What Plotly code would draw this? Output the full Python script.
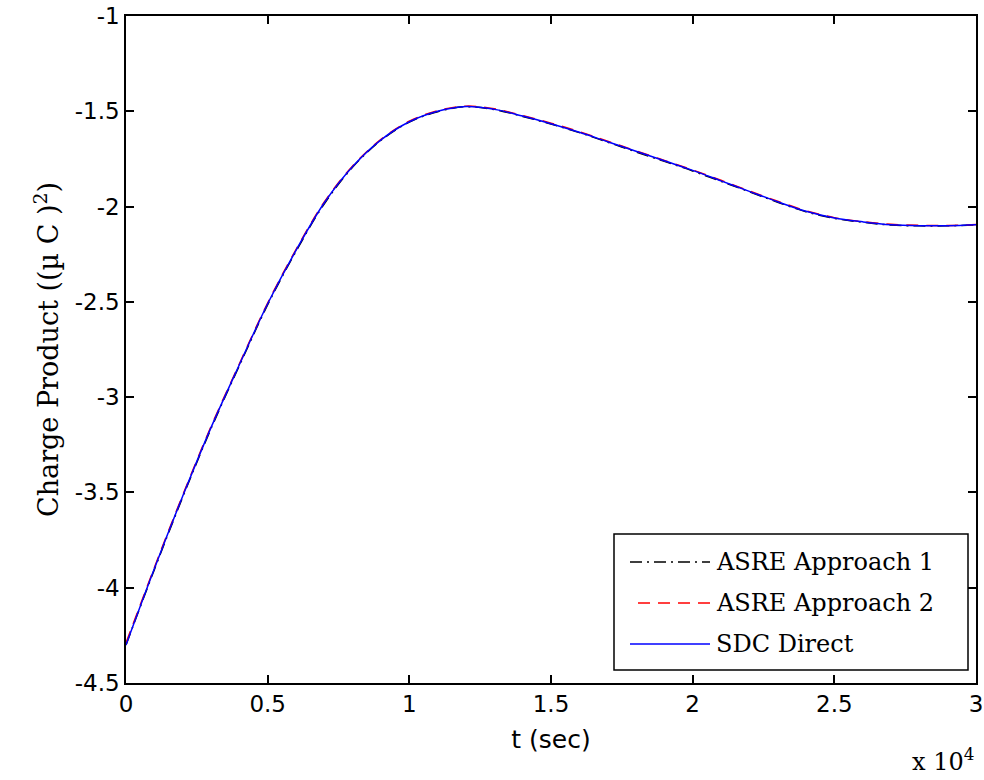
import plotly.graph_objects as go

# time in seconds
t = [0, 1000, 2000, 3000, 4000, 5000, 6000, 7000, 8000, 9000, 10000,
     11000, 12000, 13000, 14000, 15000, 16000, 17000, 18000, 19000, 20000,
     21000, 22000, 23000, 24000, 25000, 26000, 27000, 28000, 29000, 30000]

sdc_direct = [-4.30, -3.90, -3.52, -3.16, -2.83, -2.51, -2.23, -1.98, -1.79, -1.65, -1.555,
              -1.50, -1.475, -1.49, -1.525, -1.565, -1.61, -1.66, -1.71, -1.76, -1.81,
              -1.865, -1.92, -1.975, -2.025, -2.06, -2.08, -2.095, -2.10, -2.10, -2.095]

asre1 = [-4.30, -3.905, -3.525, -3.165, -2.835, -2.515, -2.235, -1.985, -1.793, -1.652, -1.557,
         -1.502, -1.476, -1.491, -1.527, -1.567, -1.612, -1.662, -1.713, -1.763, -1.813,
         -1.868, -1.922, -1.977, -2.027, -2.062, -2.082, -2.097, -2.101, -2.101, -2.096]

asre2 = [-4.29, -3.895, -3.515, -3.155, -2.826, -2.506, -2.226, -1.976, -1.787, -1.647, -1.552,
         -1.497, -1.473, -1.487, -1.522, -1.562, -1.607, -1.657, -1.708, -1.758, -1.808,
         -1.862, -1.918, -1.972, -2.022, -2.058, -2.079, -2.093, -2.098, -2.099, -2.094]

x_tickvals = [0, 5000, 10000, 15000, 20000, 25000, 30000]
x_ticktext = ["0", "0.5", "1", "1.5", "2", "2.5", "3"]
y_tickvals = [-4.5, -4, -3.5, -3, -2.5, -2, -1.5, -1]
y_ticktext = ["-4.5", "-4", "-3.5", "-3", "-2.5", "-2", "-1.5", "-1"]

names = ["ASRE Approach 1", "ASRE Approach 2", "SDC Direct"]
colors = ["black", "red", "blue"]
dashes = ["12px,5px,2px,5px", "12px,8px", "solid"]

fig = go.Figure()
for y, name, c, d in zip([asre1, asre2, sdc_direct], names, colors, dashes):
    fig.add_trace(go.Scatter(x=t, y=y, mode="lines", name=name,
                             line=dict(color=c, dash=d, width=1.5, shape="spline"),
                             showlegend=False))

serif = "DejaVu Serif"
sans = "DejaVu Sans"

fig.update_layout(
    width=984, height=780,
    margin=dict(l=126, r=8, t=16, b=97),
    paper_bgcolor="white", plot_bgcolor="white",
    xaxis=dict(range=[0, 30000], tickvals=x_tickvals, ticktext=x_ticktext,
               ticks="inside", ticklen=8, tickcolor="black", tickwidth=1.5,
               showline=True, linecolor="black", linewidth=1.5, mirror="ticks",
               showgrid=False, zeroline=False, automargin=False,
               tickfont=dict(family=sans, size=23, color="black"),
               title=dict(text="t (sec)", font=dict(family=sans, size=25, color="black"),
                          standoff=14)),
    yaxis=dict(range=[-4.5, -1], tickvals=y_tickvals, ticktext=y_ticktext,
               ticks="inside", ticklen=8, tickcolor="black", tickwidth=1.5,
               showline=True, linecolor="black", linewidth=1.5, mirror="ticks",
               showgrid=False, zeroline=False, automargin=False,
               tickfont=dict(family=sans, size=23, color="black"),
               title=dict(text="Charge Product ((µ C )<sup>2</sup>)",
                          font=dict(family=serif, size=27, color="black"),
                          standoff=8)),
)

# x 10^4 multiplier
fig.add_annotation(xref="paper", yref="paper", x=1.0, y=(683 - 760) / 667,
                   xanchor="right", yanchor="middle",
                   text="x 10<sup>4</sup>", showarrow=False,
                   font=dict(family=serif, size=24, color="black"))

# legend box (manual, MATLAB style)
lx0, lx1 = (614 - 126) / 850, (968 - 126) / 850
ly0, ly1 = (683 - 670) / 667, (683 - 534) / 667
fig.add_shape(type="rect", xref="paper", yref="paper", x0=lx0, x1=lx1, y0=ly0, y1=ly1,
              line=dict(color="black", width=1.5), fillcolor="white", layer="above")
rows_px = [562, 603, 644]
line_starts = [630, 638, 630]
for yp, xs, name, c, d in zip(rows_px, line_starts, names, colors, dashes):
    yy = (683 - yp) / 667
    fig.add_shape(type="line", xref="paper", yref="paper",
                  x0=(xs - 126) / 850, x1=(710 - 126) / 850, y0=yy, y1=yy,
                  line=dict(color=c, dash=d, width=1.5), layer="above")
    fig.add_annotation(xref="paper", yref="paper", x=(714 - 126) / 850, y=yy,
                       xanchor="left", yanchor="middle", text=name, showarrow=False,
                       font=dict(family=serif, size=24, color="black"))

fig.write_html("out.html")
